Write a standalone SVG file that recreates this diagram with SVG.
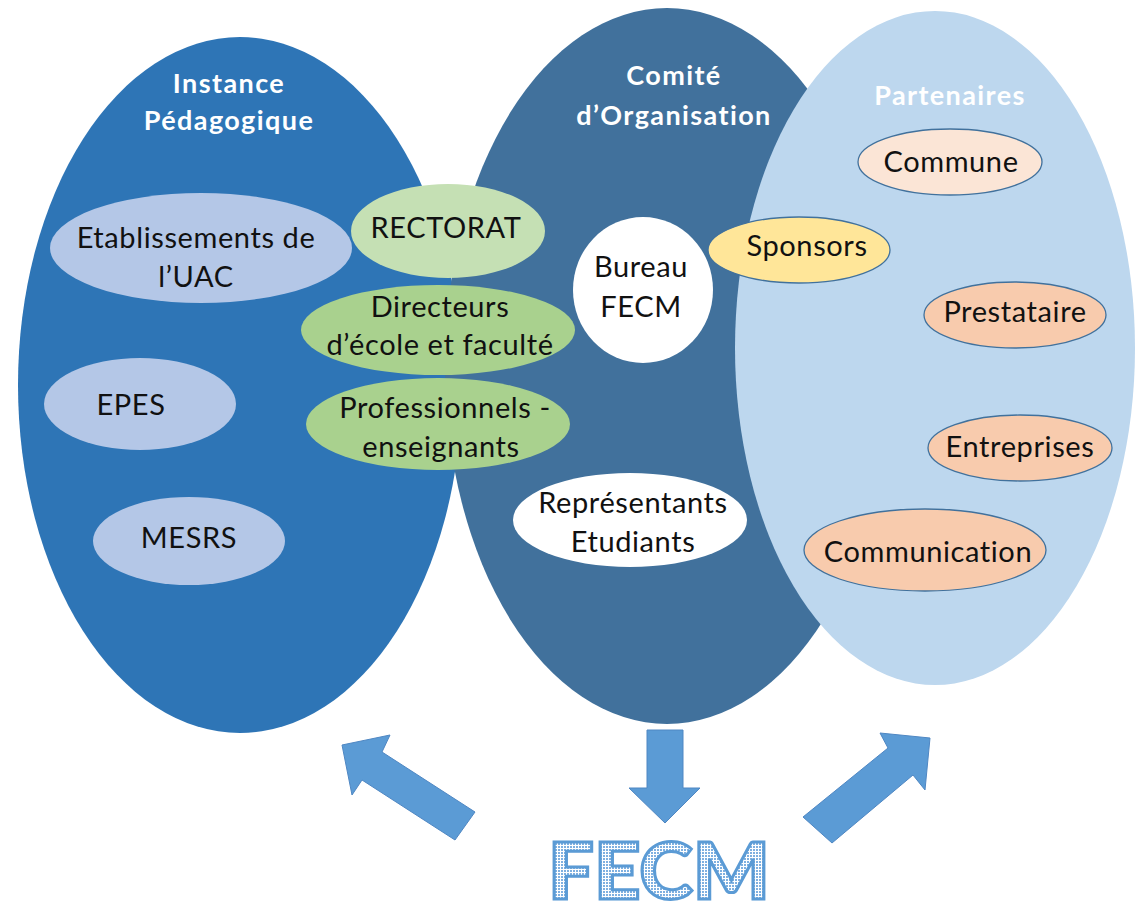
<svg xmlns="http://www.w3.org/2000/svg" width="1135" height="916" viewBox="0 0 1135 916">
<style>
text{font-family:Lato,"Open Sans","Liberation Sans",sans-serif;text-anchor:middle;fill:#111}
.hd{font-weight:bold;fill:#fff;font-size:27px;letter-spacing:1.4px}
.t{font-size:29px;letter-spacing:0.6px}
.ol{stroke:#41719C;stroke-width:1.3}
.arr{fill:#5B9BD5;stroke:#4F87C3;stroke-width:1}
</style>
<defs>
<pattern id="dots" width="3" height="3" patternUnits="userSpaceOnUse">
<rect width="3" height="3" fill="#ffffff"/>
<rect width="2" height="2" fill="#7FB0E0"/>
</pattern>
</defs>
<rect width="1135" height="916" fill="#fff"/>
<g id="instance-pedagogique">
<ellipse cx="240" cy="385" rx="222" ry="348" fill="#2E75B6"/>
<text class="hd" x="229" y="93">Instance</text>
<text class="hd" x="229" y="130">Pédagogique</text>
</g>
<g id="comite-organisation">
<ellipse cx="667" cy="366" rx="222" ry="358" fill="#41719C"/>
<text class="hd" x="674" y="85">Comité</text>
<text class="hd" x="674" y="125">d’Organisation</text>
</g>
<g id="partenaires">
<ellipse cx="935" cy="348" rx="200" ry="337" fill="#BDD7EE"/>
<text class="hd" x="950" y="105">Partenaires</text>
</g>
<g id="etablissements">
<ellipse cx="201" cy="248" rx="151" ry="55" fill="#B4C7E7"/>
<text class="t" x="196" y="248">Etablissements de</text>
<text class="t" x="196" y="287">l’UAC</text>
</g>
<g id="epes">
<ellipse cx="140" cy="404" rx="96" ry="46" fill="#B4C7E7"/>
<text class="t" x="131" y="415">EPES</text>
</g>
<g id="mesrs">
<ellipse cx="189" cy="541" rx="96" ry="44" fill="#B4C7E7"/>
<text class="t" x="189" y="548">MESRS</text>
</g>
<g id="rectorat">
<ellipse cx="448" cy="231" rx="97" ry="47" fill="#C5E0B4"/>
<text class="t" x="446" y="238">RECTORAT</text>
</g>
<g id="directeurs">
<ellipse cx="438" cy="330" rx="137" ry="45" fill="#A9D18E"/>
<text class="t" x="440" y="317">Directeurs</text>
<text class="t" x="440" y="355">d’école et faculté</text>
</g>
<g id="professionnels">
<ellipse cx="438" cy="424" rx="132" ry="46" fill="#A9D18E"/>
<text class="t" x="445" y="418">Professionnels -</text>
<text class="t" x="441" y="457">enseignants</text>
</g>
<g id="bureau-fecm">
<ellipse cx="643" cy="290" rx="70" ry="73" fill="#fff"/>
<text class="t" x="641" y="277">Bureau</text>
<text class="t" x="641" y="317">FECM</text>
</g>
<g id="representants">
<ellipse cx="630" cy="520" rx="117" ry="47" fill="#fff"/>
<text class="t" x="633" y="513">Représentants</text>
<text class="t" x="633" y="552">Etudiants</text>
</g>
<g id="sponsors">
<ellipse class="ol" cx="799" cy="250" rx="91" ry="33" fill="#FFE699"/>
<text class="t" x="807" y="256">Sponsors</text>
</g>
<g id="commune">
<ellipse class="ol" cx="950" cy="162" rx="92" ry="33" fill="#FBE5D6"/>
<text class="t" x="951" y="172">Commune</text>
</g>
<g id="prestataire">
<ellipse class="ol" cx="1015" cy="315" rx="91" ry="33" fill="#F8CBAD"/>
<text class="t" x="1015" y="322">Prestataire</text>
</g>
<g id="entreprises">
<ellipse class="ol" cx="1020" cy="448" rx="92" ry="33" fill="#F8CBAD"/>
<text class="t" x="1020" y="457">Entreprises</text>
</g>
<g id="communication">
<ellipse class="ol" cx="925" cy="550" rx="121" ry="41" fill="#F8CBAD"/>
<text class="t" x="928" y="562">Communication</text>
</g>
<g id="connectors">
<polygon class="arr" points="342,745 390,735 382,752 475,812 455,840 362,780 352,795"/>
<polygon class="arr" points="647,730 683,730 683,788 700,788 665,823 629,788 647,788"/>
<polygon class="arr" points="930,738 925,790 913,775 832,843 803,817 888,748 880,733"/>
</g>
<g id="fecm">
<text x="659" y="899" style="font-family:Lato,'Liberation Sans',sans-serif;font-weight:900;font-size:78px;fill:url(#dots);stroke:#5B9BD5;stroke-width:3" textLength="222" lengthAdjust="spacingAndGlyphs">FECM</text>
</g>
</svg>
